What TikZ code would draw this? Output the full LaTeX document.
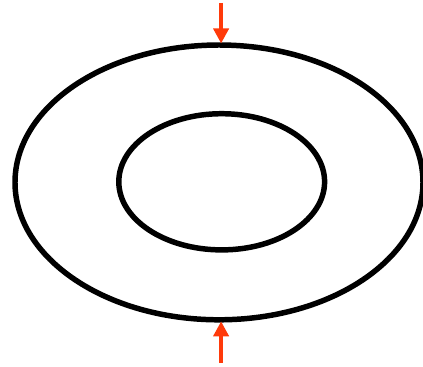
\documentclass[tikz,border=0pt]{standalone}
\usepackage{xcolor}
\usepackage{tikz}
\usetikzlibrary{arrows.meta}
\definecolor{RingBlack}{HTML}{000000}
\definecolor{PushRed}{HTML}{FF3A0A}

\begin{document}
\begin{tikzpicture}[x=1cm,y=1cm]
\path[use as bounding box] (0,0) rectangle (14.10,12.23);
\draw[RingBlack,line width=5.2pt] (7.30,6.15) ellipse [x radius=6.80,y radius=4.58];
\draw[RingBlack,line width=5.2pt] (7.39,6.17) ellipse [x radius=3.43,y radius=2.27];
\coordinate (topstart) at (7.37,12.13);
\coordinate (toptip) at (7.37,10.78);
\coordinate (botstart) at (7.37,0.13);
\coordinate (bottip) at (7.37,1.52);
\draw[PushRed,line width=3.8pt,-{Triangle[length=0.5cm,width=0.5cm]}] (topstart) -- (toptip);
\draw[PushRed,line width=3.8pt,-{Triangle[length=0.5cm,width=0.5cm]}] (botstart) -- (bottip);
\end{tikzpicture}
\end{document}
